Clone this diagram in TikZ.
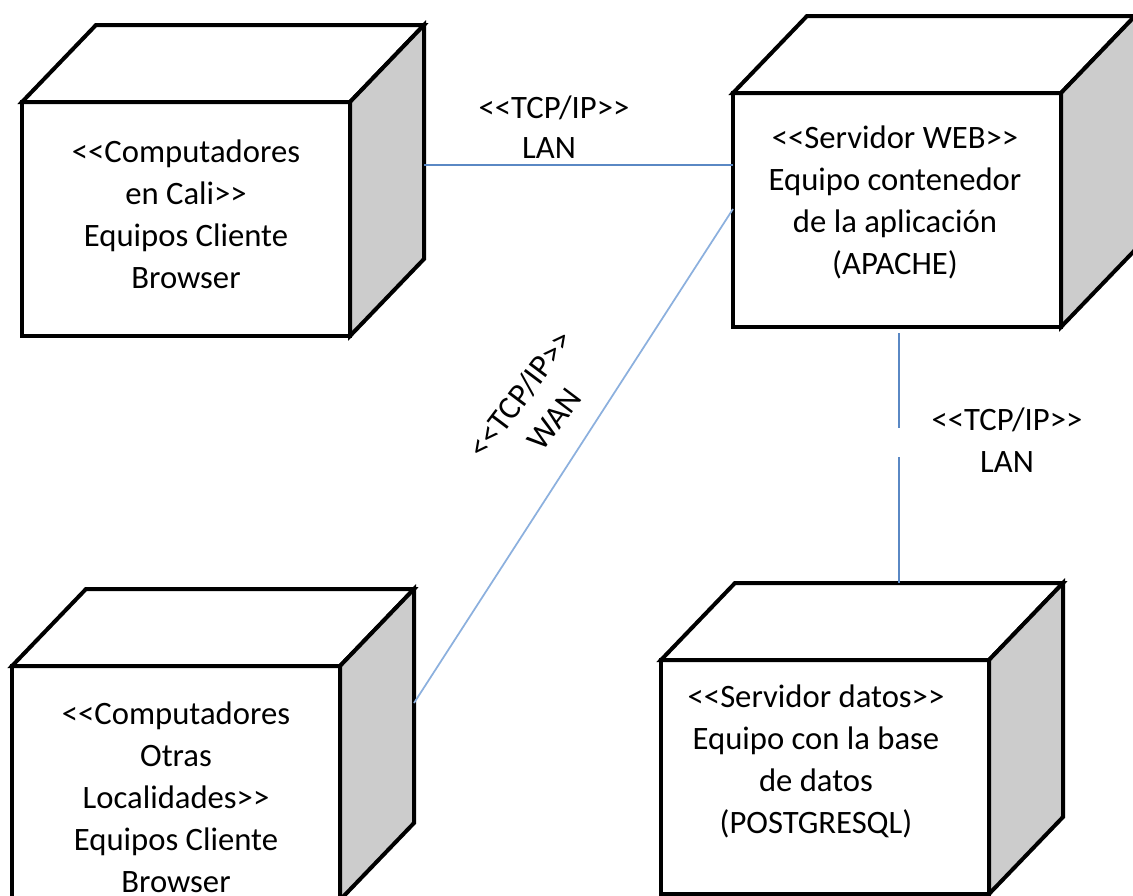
\documentclass[tikz,border=0pt]{standalone}
\usepackage{fontspec}
\setmainfont{Carlito}[Ligatures=TeXOff]
\usetikzlibrary{calc}
\definecolor{lanblue}{HTML}{5A88C4}
\definecolor{wanblue}{HTML}{8CB0DE}
\definecolor{sidegray}{HTML}{CCCCCC}
\newcommand\cubebox[1]{%
  \draw[shell,fill=white] (#1.north west) -- ++(74,-77) -- ($(#1.north east)+(74,-77)$) -- (#1.north east) -- cycle;
  \draw[shell,fill=sidegray] (#1.north east) -- ($(#1.north east)+(74,-77)$) -- ($(#1.south east)+(74,-77)$) -- (#1.south east) -- cycle;
}
\begin{document}
\begin{tikzpicture}[x=0.75pt,y=-0.75pt,
  face/.style={draw=black,line width=3pt,fill=white,minimum width=246pt,minimum height=175.5pt,outer sep=0pt,inner sep=0pt},
  shell/.style={draw=black,line width=3pt,line join=miter},
  txt/.style={font=\fontsize{24.5}{31.5}\selectfont,align=center,text=black,inner sep=0pt},
  lan/.style={draw=lanblue,line width=1.3pt},
  wan/.style={draw=wanblue,line width=1.3pt}]
\useasboundingbox (0,0) rectangle (1133,896);
\clip (0,0) rectangle (1133,896);
\fill[white] (0,0) rectangle (1133,896);

% boxes
\node[face] (c1) at (186,219) {};
\cubebox{c1}
\node[face] (c2) at (897,210) {};
\cubebox{c2}
\node[face] (c3) at (176,783) {};
\cubebox{c3}
\node[face] (c4) at (825,777) {};
\cubebox{c4}

% texts
\node[txt] (t1) at (186,214) {<<Computadores\\en Cali>>\\Equipos Cliente\\Browser};
\node[txt] (t2) at (895,202) {<<Servidor WEB>>\\Equipo contenedor\\de la aplicación\\(APACHE)};
\node[txt] (t3) at (176,797) {<<Computadores\\Otras\\Localidades>>\\Equipos Cliente\\Browser};
\node[txt] (t4) at (816,761) {<<Servidor datos>>\\Equipo con la base\\de datos\\(POSTGRESQL)};

% connectors
\coordinate (a1) at ($(c1.north east)+(74,63)$);
\draw[lan] (a1) -- (a1 -| c2.west);

\coordinate (w2) at ($(c2.north west)+(0,116)$);
\coordinate (w3) at ($(c3.north east)+(74,37)$);
\draw[wan] (w2) -- (w3);

\coordinate (v1) at ($(c2.south)+(2,6)$);
\coordinate (v4) at ($(c4.north)+(74,-77)$);
\draw[lan] (v1) -- ($(v1)+(0,95)$);
\draw[lan] ($(v4)+(0,-126)$) -- (v4);

% labels
\node[txt] (l1a) at (554,108) {<<TCP/IP>>};
\node[txt] (l1b) at (549,148) {LAN};
\node[txt] (l2) at (1007,440) {<<TCP/IP>>\\LAN};
\node[txt,rotate=53] (l3) at (537,406) {<<TCP/IP>>\\WAN};
\end{tikzpicture}
\end{document}
